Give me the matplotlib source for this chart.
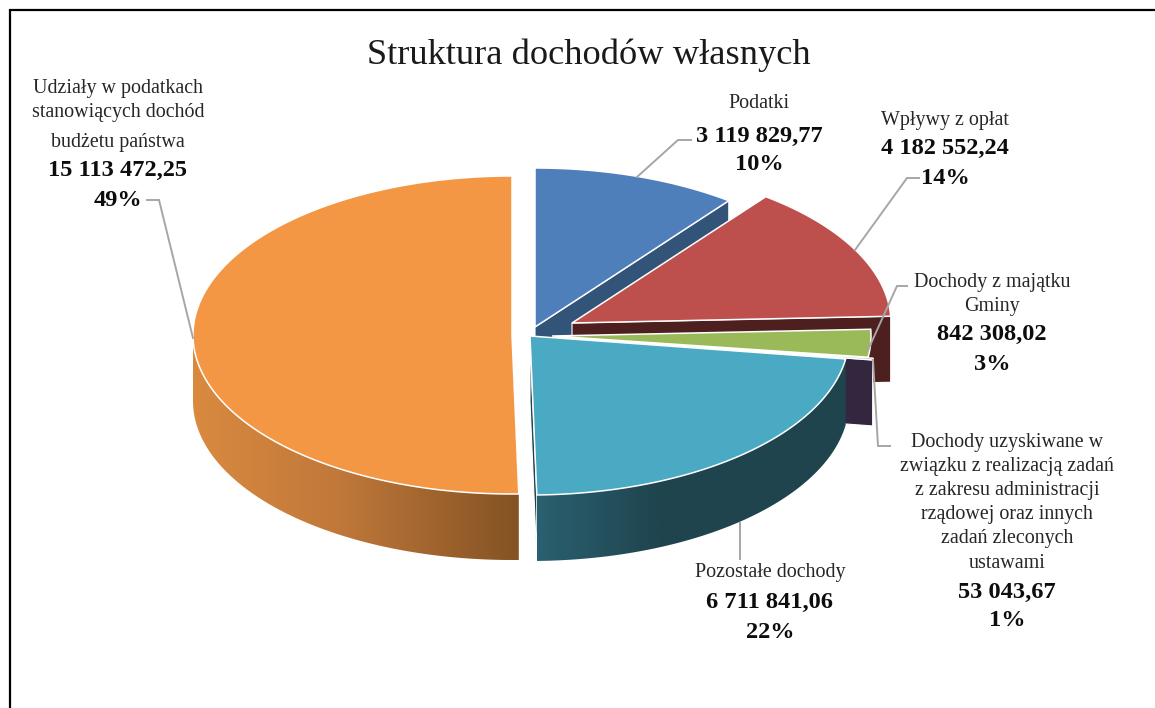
import numpy as np
import matplotlib
matplotlib.use("Agg")
import matplotlib.pyplot as plt
from matplotlib.patches import Polygon
from matplotlib.colors import LinearSegmentedColormap

plt.rcParams['font.family'] = ['Liberation Serif', 'DejaVu Serif']

TITLE = "Struktura dochodów własnych"
categories = ["Podatki", "Wpływy z opłat", "Dochody z majątku Gminy",
              "Dochody uzyskiwane", "Pozostałe dochody", "Udziały"]
values = [3119829.77, 4182552.24, 842308.02, 53043.67, 6711841.06, 15113472.25]

top_colors = ["#4f7fbb", "#bd4f4c", "#9ab958", "#5f4b8b", "#4aa9c3", "#f49744"]
wall_colors = ["#325479", "#4d1f1e", "#5f7a38", "#33263f", "#1f444e", "#8a5527"]
centers = [(535, 327), (572, 323), (552, 336), (557, 337), (530, 336), (512, 335)]
RX, RY, DEPTH = 319, 159, 66

fig = plt.figure(figsize=(11.55, 7.08), dpi=100)
ax = fig.add_axes([0, 0, 1, 1])
ax.set_axis_off()


def rim(i, a0, a1, dy=0, n=240):
    t = np.radians(np.linspace(a0, a1, n))
    cx, cy = centers[i]
    return np.column_stack([cx + RX * np.sin(t), cy - RY * np.cos(t) + dy])


def top(i, a0, a1, z):
    pts = np.vstack([[centers[i]], rim(i, a0, a1)])
    ax.add_patch(Polygon(pts, closed=True, fc=top_colors[i], ec="white", lw=1.1, zorder=z, joinstyle="miter"))


def radial_wall(i, a, z):
    cx, cy = centers[i]
    p = rim(i, a, a, n=1)[0]
    pts = [(cx, cy), tuple(p), (p[0], p[1] + DEPTH), (cx, cy + DEPTH)]
    ax.add_patch(Polygon(pts, closed=True, fc=wall_colors[i], ec="white", lw=0.8, zorder=z))


def side(i, a0, a1, z, stops):
    upper = rim(i, a0, a1)
    lower = rim(i, a0, a1, dy=DEPTH)[::-1]
    pts = np.vstack([upper, lower])
    poly = Polygon(pts, closed=True, fc="none", ec="none", transform=ax.transData)
    ax.add_patch(poly)
    cmap = LinearSegmentedColormap.from_list("g", stops)
    im = ax.imshow(np.linspace(0, 1, 400)[None, :], cmap=cmap, aspect="auto", zorder=z,
                   extent=(pts[:, 0].min(), pts[:, 0].max(), pts[:, 1].max(), pts[:, 1].min()))
    im.set_clip_path(poly)


fractions = np.array(values) / np.sum(values)
edges = np.concatenate([[0], np.cumsum(fractions) * 360])

# Back to front
radial_wall(0, edges[1], 1)
top(0, edges[0], edges[1], 2)
radial_wall(1, edges[2], 3)
top(1, edges[1], edges[2], 4)
radial_wall(3, edges[4], 5)
top(3, edges[3], edges[4], 5.5)
top(2, edges[2], edges[3], 6)
radial_wall(4, edges[5], 7)
side(4, edges[4], edges[5], 8, [(0, "#2a6070"), (0.4, "#1f444e"), (1, "#1f444e")])
top(4, edges[4], edges[5], 9)
side(5, edges[5], 270, 10, [(0, "#d98a3f"), (0.45, "#c0783a"), (1, "#845224")])
top(5, edges[5], edges[6], 11)

# Frame
ax.plot([10, 10, 1155], [708, 10, 10], color="black", lw=1.6, zorder=1, solid_joinstyle="miter")

# Leader lines
leaders = [
    [(637, 177), (678, 140), (691, 140)],
    [(855, 250), (907, 178), (919, 178)],
    [(868, 350), (897, 286), (907, 286)],
    [(873, 360), (878, 446), (890, 446)],
    [(740, 523), (740, 559)],
    [(147, 200), (159, 200), (193, 338)],
]
for pts in leaders:
    xs, ys = zip(*pts)
    ax.plot(xs, ys, color="#a6a6a6", lw=1.4, zorder=12, solid_joinstyle="miter")

ax.text(589, 55, TITLE, fontsize=26.2, color="#1a1a1a", ha="center", va="center", zorder=13)

label_x = [759, 945, 992, 1007, 770, 118]
label_lines = [
    [("Podatki", 102, 0), ("3 119 829,77", 134, 1), ("10%", 162, 1)],
    [("Wpływy z opłat", 118, 0), ("4 182 552,24", 146, 1), ("14%", 176, 1)],
    [("Dochody z majątku", 280, 0), ("Gminy", 305, 0), ("842 308,02", 332, 1), ("3%", 362, 1)],
    [("Dochody uzyskiwane w", 440, 0), ("związku z realizacją zadań", 465, 0),
     ("z zakresu administracji", 488, 0), ("rządowej oraz innych", 512, 0),
     ("zadań zleconych", 536, 0), ("ustawami", 561, 0), ("53 043,67", 590, 1), ("1%", 618, 1)],
    [("Pozostałe dochody", 571, 0), ("6 711 841,06", 600, 1), ("22%", 630, 1)],
    [("Udziały w podatkach", 87, 0), ("stanowiących dochód", 111, 0), ("budżetu państwa", 140, 0),
     ("15 113 472,25", 168, 1), ("49%", 199, 1)],
]
for x, lines in zip(label_x, label_lines):
    for s, y, bold in lines:
        ax.text(x, y + 2, s, ha="center", va="center", zorder=13,
                fontsize=17.6 if bold else 14.4,
                fontweight="bold" if bold else "normal",
                color="#0d0d0d" if bold else "#262626")

ax.set_xlim(0, 1155)
ax.set_ylim(708, 0)
fig.savefig("out.png", dpi=100, facecolor="white")
